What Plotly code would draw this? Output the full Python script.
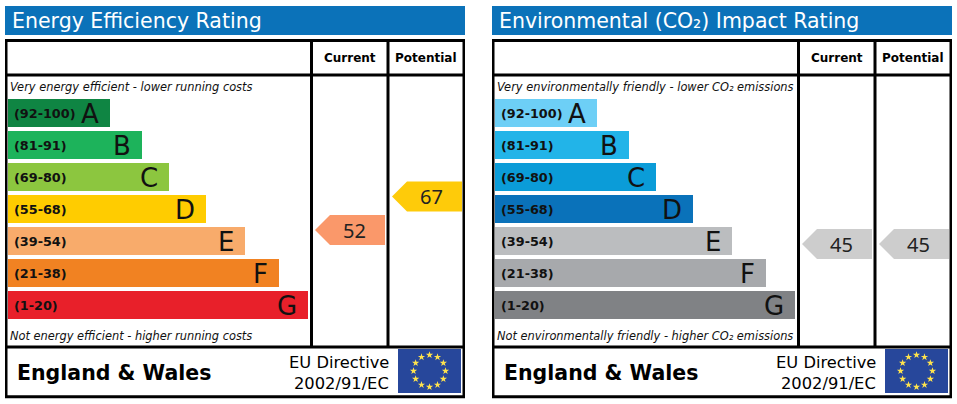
import numpy as np
import plotly.graph_objects as go

W, H = 957, 404

# ---------------- data ----------------
band_letters = ["A", "B", "C", "D", "E", "F", "G"]
band_ranges = ["(92-100)", "(81-91)", "(69-80)", "(55-68)", "(39-54)", "(21-38)", "(1-20)"]
band_low = [92, 81, 69, 55, 39, 21, 1]
band_high = [100, 91, 80, 68, 54, 38, 20]
band_lengths = [102, 134, 161, 198, 237, 271, 300]

eer_colors = ["#0f8543", "#1db35b", "#8cc63f", "#ffcc00", "#f8ab6b", "#f18222", "#e8202a"]
ei_colors = ["#6dcff6", "#22b4e8", "#0b9cd8", "#0a72ba", "#bbbdbf", "#a7a9ac", "#808285"]

eer_current, eer_potential = 52, 67
ei_current, ei_potential = 45, 45
eer_arrow_colors = ["#fa986a", "#fecb0a"]
ei_arrow_colors = ["#cdcdcd", "#cdcdcd"]

column_labels = ["Current", "Potential"]
region_label = "England & Wales"
directive_lines = ["EU Directive", "2002/91/EC"]

panels = [
    dict(title="Energy Efficiency Rating",
         top_note="Very energy efficient - lower running costs",
         bottom_note="Not energy efficient - higher running costs",
         colors=eer_colors, values=[eer_current, eer_potential],
         arrow_colors=eer_arrow_colors),
    dict(title="Environmental (CO₂) Impact Rating",
         top_note="Very environmentally friendly - lower CO₂ emissions",
         bottom_note="Not environmentally friendly - higher CO₂ emissions",
         colors=ei_colors, values=[ei_current, ei_potential],
         arrow_colors=ei_arrow_colors),
]

# ---------------- layout geometry (pixels) ----------------
PANEL_X0 = [5, 492]
PANEL_W = 460
ROW_TOP, ROW_BOT = 97, 321          # vertical span of the 7 band rows
BAR_BASE = 3
BAR_THICK = 28 / 32
COL_X = [306.5, 383, 459]           # column dividers / right edge (panel units)
ARROW_X = [(310, 380), (387, 457)]
ARROW_HEAD = 15
ARROW_HALF = 15 / 32
FONT = "DejaVu Sans"


def py(v):
    return 1 - v / H


def rating_row(v):
    for i, (lo, hi) in enumerate(zip(band_low, band_high)):
        if lo <= v <= hi:
            return i - 0.5 + (hi + 0.5 - v) / (hi - lo + 1)
    return 6.0


fig = go.Figure()
shapes = []
annotations = []
layout_axes = {}

rows = list(range(len(band_letters)))

for p, panel in enumerate(panels):
    x0 = PANEL_X0[p]
    xa = "x" if p == 0 else "x2"
    ya = "y" if p == 0 else "y2"
    xkey = "xaxis" if p == 0 else "xaxis2"
    ykey = "yaxis" if p == 0 else "yaxis2"
    layout_axes[xkey] = dict(domain=[x0 / W, (x0 + PANEL_W) / W], range=[0, PANEL_W],
                             visible=False, fixedrange=True, anchor=ya)
    layout_axes[ykey] = dict(domain=[py(ROW_BOT), py(ROW_TOP)], range=[6.5, -0.5],
                             visible=False, fixedrange=True, anchor=xa)

    # bands
    fig.add_trace(go.Bar(orientation="h", y=rows, x=band_lengths, base=BAR_BASE,
                         width=BAR_THICK, marker=dict(color=panel["colors"], line=dict(width=0)),
                         xaxis=xa, yaxis=ya, hoverinfo="skip", showlegend=False))
    for i in rows:
        annotations.append(dict(x=BAR_BASE + 4, y=i, xref=xa, yref=ya, text=band_ranges[i],
                                showarrow=False, xanchor="left", yanchor="middle",
                                font=dict(family=FONT, size=12.8, color="#111", weight="bold")))
        annotations.append(dict(x=BAR_BASE + band_lengths[i] - 9, y=i + 0.03, xref=xa, yref=ya,
                                text=band_letters[i], showarrow=False, xanchor="right",
                                yanchor="middle",
                                font=dict(family=FONT, size=26, color="#111")))

    # arrows
    for c, val in enumerate(panel["values"]):
        xl, xr = ARROW_X[c]
        yc = rating_row(val)
        ax = [xl, xl + ARROW_HEAD, xr, xr, xl + ARROW_HEAD, xl]
        ay = [yc, yc - ARROW_HALF, yc - ARROW_HALF, yc + ARROW_HALF, yc + ARROW_HALF, yc]
        fig.add_trace(go.Scatter(x=ax, y=ay, mode="lines", fill="toself",
                                 fillcolor=panel["arrow_colors"][c], line=dict(width=0),
                                 xaxis=xa, yaxis=ya, hoverinfo="skip", showlegend=False))
        annotations.append(dict(x=(xl + xr) / 2 + 4, y=yc, xref=xa, yref=ya, text=str(val),
                                showarrow=False, xanchor="center", yanchor="middle",
                                font=dict(family="Noto Sans", size=20, color="#222")))

    # title bar
    shapes.append(dict(type="rect", xref=xa, yref="paper", x0=0, x1=PANEL_W,
                       y0=py(35), y1=py(6), fillcolor="#0b72b9", line=dict(width=0),
                       layer="below"))
    annotations.append(dict(x=5, y=py(21), xref=xa, yref="paper", text=panel["title"],
                            showarrow=False, xanchor="left", yanchor="middle",
                            font=dict(family=FONT, size=20.5, color="white")))

    # frame
    line = dict(color="black", width=3)
    shapes.append(dict(type="rect", xref=xa, yref="paper", x0=1, x1=459,
                       y0=py(396.7), y1=py(40.5), line=line))
    for yy in (75, 347):
        shapes.append(dict(type="line", xref=xa, yref="paper", x0=1, x1=459,
                           y0=py(yy), y1=py(yy), line=line))
    for xx in COL_X[:2]:
        shapes.append(dict(type="line", xref=xa, yref="paper", x0=xx, x1=xx,
                           y0=py(40.5), y1=py(347), line=line))

    # column headers
    for c, lab in enumerate(column_labels):
        annotations.append(dict(x=(COL_X[c] + COL_X[c + 1]) / 2, y=py(58), xref=xa,
                                yref="paper", text=lab, showarrow=False,
                                xanchor="center", yanchor="middle",
                                font=dict(family=FONT, size=12, color="black", weight="bold")))

    # notes
    for txt, yy in ((panel["top_note"], 87), (panel["bottom_note"], 336)):
        annotations.append(dict(x=3, y=py(yy), xref=xa, yref="paper", text=txt,
                                showarrow=False, xanchor="left", yanchor="middle",
                                font=dict(family=FONT, size=11.4, color="#111",
                                          style="italic")))

    # footer
    annotations.append(dict(x=9.5, y=py(373), xref=xa, yref="paper", text=region_label,
                            showarrow=False, xanchor="left", yanchor="middle",
                            font=dict(family=FONT, size=20.5, color="black", weight="bold")))
    for k, (txt, yy) in enumerate(zip(directive_lines, (362.5, 383))):
        annotations.append(dict(x=386, y=py(yy), xref=xa, yref="paper", text=txt,
                                showarrow=False, xanchor="right", yanchor="middle",
                                font=dict(family=FONT, size=16.3, color="black")))

    # EU flag
    fx0, fx1, fy0, fy1 = 393, 456, 349, 393
    shapes.append(dict(type="rect", xref=xa, yref="paper", x0=fx0, x1=fx1,
                       y0=py(fy1), y1=py(fy0), fillcolor="#27479b", line=dict(width=0),
                       layer="below"))
    fxa = "x3" if p == 0 else "x4"
    fya = "y3" if p == 0 else "y4"
    fw, fh = fx1 - fx0, fy1 - fy0
    layout_axes["xaxis3" if p == 0 else "xaxis4"] = dict(
        domain=[(x0 + fx0) / W, (x0 + fx1) / W], range=[-fw / 2, fw / 2],
        visible=False, fixedrange=True, anchor=fya)
    layout_axes["yaxis3" if p == 0 else "yaxis4"] = dict(
        domain=[py(fy1), py(fy0)], range=[-fh / 2, fh / 2],
        visible=False, fixedrange=True, anchor=fxa)
    ang = np.deg2rad(90 - 30 * np.arange(12))
    fig.add_trace(go.Scatter(x=16 * np.cos(ang), y=16 * np.sin(ang), mode="markers",
                             marker=dict(symbol="star", size=5.5, color="#ffe34d",
                                         line=dict(width=0)),
                             xaxis=fxa, yaxis=fya, hoverinfo="skip", showlegend=False))

fig.update_layout(width=W, height=H, margin=dict(l=0, r=0, t=0, b=0),
                  paper_bgcolor="white", plot_bgcolor="rgba(0,0,0,0)",
                  shapes=shapes, annotations=annotations, showlegend=False,
                  barmode="overlay", **layout_axes)

fig.write_html("out.html", config={"displayModeBar": False},
               post_script="document.body.style.margin='0';document.body.style.overflow='hidden';")
